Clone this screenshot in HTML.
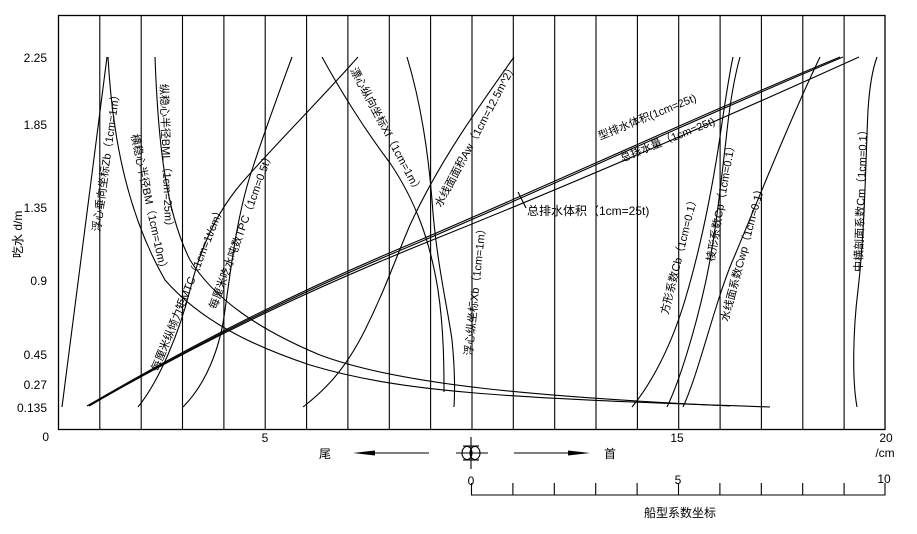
<!DOCTYPE html>
<html><head><meta charset="utf-8"><style>
html,body{margin:0;padding:0;background:#fff;}
svg{display:block;}
text{font-family:"Liberation Sans","Noto Sans CJK SC",sans-serif;fill:#000;}
</style></head><body>
<svg width="917" height="534" viewBox="0 0 917 534" xmlns="http://www.w3.org/2000/svg">
<rect x="58.5" y="15.5" width="826.5" height="414" fill="none" stroke="#000" stroke-width="1.3"/>
<g stroke="#000" stroke-width="1.1">
<line x1="99.8" y1="15" x2="99.8" y2="430"/><line x1="141.2" y1="15" x2="141.2" y2="430"/>
<line x1="182.5" y1="15" x2="182.5" y2="430"/><line x1="223.9" y1="15" x2="223.9" y2="430"/>
<line x1="265.2" y1="15" x2="265.2" y2="430"/><line x1="306.6" y1="15" x2="306.6" y2="430"/>
<line x1="347.9" y1="15" x2="347.9" y2="430"/><line x1="389.3" y1="15" x2="389.3" y2="430"/>
<line x1="430.6" y1="15" x2="430.6" y2="430"/><line x1="472" y1="15" x2="472" y2="430"/>
<line x1="513.3" y1="15" x2="513.3" y2="430"/><line x1="554.7" y1="15" x2="554.7" y2="430"/>
<line x1="596" y1="15" x2="596" y2="430"/><line x1="637.4" y1="15" x2="637.4" y2="430"/>
<line x1="678.7" y1="15" x2="678.7" y2="430"/><line x1="720.1" y1="15" x2="720.1" y2="430"/>
<line x1="761.4" y1="15" x2="761.4" y2="430"/><line x1="802.8" y1="15" x2="802.8" y2="430"/>
<line x1="844.1" y1="15" x2="844.1" y2="430"/>
</g>
<g fill="none" stroke="#000" stroke-width="1.1">
<path d="M62,407 L107,57"/>
<path d="M108,57 C112,130 125,210 165,280 C200,320 250,345 310,365 C400,392 500,398 770,407"/>
<path d="M155,57 C158,140 165,210 190,260 C215,300 260,330 320,355 C400,385 540,397 730,406"/>
<path d="M138,407 C160,380 180,330 190,290 C200,250 215,215 240,185 C270,150 320,100 358,57"/>
<path d="M183,407 C205,385 220,350 225,310 C232,260 238,210 253,167 C265,130 278,95 292,57"/>
<path d="M87,406 C200,340 300,290 420,240 C560,180 700,115 840,57"/>
<path d="M89,406 C200,341 300,292 420,242 C560,182 700,117 843,57"/>
<path d="M89,406 C200,342 300,294 420,245 C570,185 720,120 859,57"/>
<path d="M322,57 C340,90 365,130 390,163 C415,200 430,240 438,290 C444,330 444,370 444,392"/>
<path d="M407,57 C420,100 428,150 432,200 C436,260 448,310 452,340 C455,370 455,390 454,407"/>
<path d="M303,407 C325,390 345,370 365,330 C385,290 395,260 410,225 C440,160 480,105 514,57"/>
<path d="M632,407 C650,385 670,350 685,300 C700,250 710,200 718,150 C724,110 728,80 733,57"/>
<path d="M667,407 C680,380 695,330 705,285 C715,240 720,190 726,140 C730,100 735,75 740,57"/>
<path d="M683,407 C700,370 715,300 735,255 C760,195 790,120 820,57"/>
<path d="M857,407 C852,380 853,330 858,290 C865,230 866,150 868,110 C870,80 874,65 877,57"/>
<path d="M518,192 L526,208"/>
</g>
<g font-size="12" text-anchor="end">
<text x="47" y="62">2.25</text><text x="47" y="129">1.85</text>
<text x="47" y="212">1.35</text><text x="47" y="285">0.9</text>
<text x="47" y="359">0.45</text><text x="47" y="389">0.27</text>
<text x="47" y="412">0.135</text><text x="49" y="441">0</text>
</g>
<text font-size="12" transform="translate(22,258) rotate(-90)">吃水 d/m</text>
<g font-size="12" text-anchor="middle">
<text x="265" y="442">5</text><text x="677" y="442">15</text><text x="886" y="442">20</text>
<text x="885" y="457">/cm</text>
<text x="471" y="485">0</text><text x="678" y="484">5</text><text x="884" y="483">10</text>
<text x="680" y="517">船型系数坐标</text>
</g>
<text font-size="12" x="319" y="458">尾</text>
<text font-size="12" x="604" y="458">首</text>
<g stroke="#000" stroke-width="1.1" fill="none">
<line x1="370" y1="453" x2="429" y2="453"/>
<line x1="514" y1="453" x2="570" y2="453"/>
<line x1="456" y1="453" x2="488" y2="453"/>
<line x1="471" y1="437" x2="471" y2="469"/>
<ellipse cx="467" cy="453" rx="5" ry="6.5"/><ellipse cx="475" cy="453" rx="5" ry="6.5"/>
<line x1="463" y1="446" x2="479" y2="446"/><line x1="463" y1="460" x2="479" y2="460"/>
<polyline points="471.5,483 471.5,495 885,495 885,483"/>
<line x1="512.9" y1="483" x2="512.9" y2="495"/><line x1="554.3" y1="483" x2="554.3" y2="495"/>
<line x1="595.7" y1="483" x2="595.7" y2="495"/><line x1="637.1" y1="483" x2="637.1" y2="495"/>
<line x1="678.5" y1="483" x2="678.5" y2="495"/><line x1="719.9" y1="483" x2="719.9" y2="495"/>
<line x1="761.3" y1="483" x2="761.3" y2="495"/><line x1="802.7" y1="483" x2="802.7" y2="495"/>
<line x1="844.1" y1="483" x2="844.1" y2="495"/>
</g>
<polygon points="353,453 375,450.5 375,455.5" fill="#000"/>
<polygon points="590,453 568,450.5 568,455.5" fill="#000"/>
<g font-size="11">
<text transform="translate(100,232) rotate(-82)">浮心垂向坐标Zb（1cm=1m）</text>
<text transform="translate(131,135) rotate(78)">横稳心半径BM（1cm=10m）</text>
<text transform="translate(160,84) rotate(88)">纵稳心半径BML（1cm=25m）</text>
<text transform="translate(158,372) rotate(-68)">每厘米纵倾力矩MTC（1cm=1t/cm）</text>
<text transform="translate(216,310) rotate(-70)">每厘米吃水吨数TPC（1cm=0.5t）</text>
<text transform="translate(350,70) rotate(62)">漂心纵向坐标Xf（1cm=1m）</text>
<text transform="translate(441,208) rotate(-62)">水线面面积Aw（1cm=12.5m^2）</text>
<text transform="translate(472,356) rotate(-84)">浮心纵坐标Xb（1cm=1m）</text>
<text x="527" y="215" font-size="12">总排水体积（1cm=25t)</text>
<text transform="translate(600,140) rotate(-22)">型排水体积(1cm=25t)</text>
<text transform="translate(622,162) rotate(-22)">总排水量（1cm=25t)</text>
<text transform="translate(668,315) rotate(-76)">方形系数Cb（1cm=0.1）</text>
<text transform="translate(714,262) rotate(-80)">棱形系数Cp（1cm=0.1）</text>
<text transform="translate(728,322) rotate(-75)">水线面系数Cwp（1cm=0.1）</text>
<text transform="translate(862,272) rotate(-88)">中横剖面系数Cm（1cm=0.1）</text>
</g>
</svg>
</body></html>
